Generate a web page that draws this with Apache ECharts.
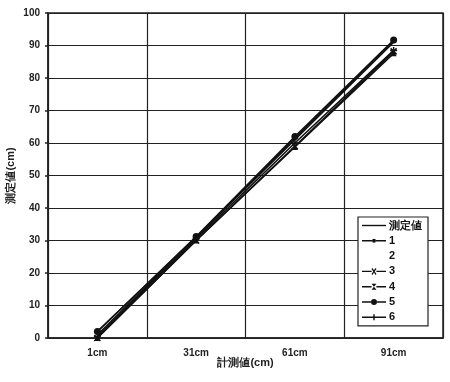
<!DOCTYPE html>
<html><head><meta charset="utf-8">
<script src="https://cdn.jsdelivr.net/npm/echarts@6/dist/echarts.min.js"></script>
<style>html,body{margin:0;padding:0;background:#fff}#c{width:450px;height:382px}</style>
</head><body><div id="c"></div>
<script>
const categories = ['1cm', '31cm', '61cm', '91cm'];
const yTicks = [0, 10, 20, 30, 40, 50, 60, 70, 80, 90, 100];
const seriesNames = ['測定値', '1', '2', '3', '4', '5', '6'];
const valMeasured = [1, 31, 61, 91];
const val1 = [2, 31, 61.5, 91.4];
const val2 = [1, 30.5, 60, 89];
const val3 = [0, 30, 59, 88.2];
const val4 = [0, 30, 58.8, 87.6];
const val5 = [2, 31.2, 62, 91.7];
const val6 = [0.5, 30.5, 60, 88.5];

const font = 'Liberation Sans, Arial, sans-serif';
const black = '#111';
const datasets = [valMeasured, val1, val2, val3, val4, val5, val6];
const symbols = ['none', 'circle', 'none', 'path://M0,0L10,10M10,0L0,10', 'triangle', 'circle', 'path://M5,0L5,10M0,5L10,5'];
const sizes = [0, 4, 0, 6, 6, 7, 7];

const seg = (a, b) => 'M0,4.3h' + a + 'v1.4h-' + a + 'z M' + b + ',4.3h' + (24 - b) + 'v1.4h-' + (24 - b) + 'z ';
const legendIcons = [
  'path://M0,0h24v1.4h-24z',
  'path://' + seg(10, 14) + 'M10,5A2,2 0 1 1 14,5A2,2 0 1 1 10,5z',
  'path://M0,0h24v1.4h-24z',
  'path://' + seg(9.6, 14.4) + 'M9.5,2.5L10.5,1.5L12,3.8L13.5,1.5L14.5,2.5L12.7,5L14.5,7.5L13.5,8.5L12,6.2L10.5,8.5L9.5,7.5L11.3,5z',
  'path://' + seg(9.6, 14.4) + 'M9.5,2L14.5,2L12,5L14.5,8L9.5,8L12,5z',
  'path://' + seg(9, 15) + 'M9,5A3,3 0 1 1 15,5A3,3 0 1 1 9,5z',
  'path://' + seg(11.3, 12.7) + 'M11.3,2h1.4v6h-1.4z'
];

const series = seriesNames.map((n, i) => ({
  name: n,
  type: 'line',
  data: datasets[i],
  symbol: symbols[i],
  symbolSize: sizes[i],
  showSymbol: true,
  itemStyle: { color: black, borderColor: black, borderWidth: (i === 3 || i === 6) ? 1.5 : 0 },
  lineStyle: { color: black, width: i === 2 ? 0 : 1.6, opacity: i === 2 ? 0 : 1 },
  z: 5
}));

const legendData = seriesNames.map((n, i) => ({
  name: n,
  icon: legendIcons[i],
  itemStyle: { color: black, borderWidth: 0, opacity: i === 2 ? 0 : 1 }
}));

const chart = echarts.init(document.getElementById('c'), null, { renderer: 'canvas' });
chart.setOption({
  animation: false,
  backgroundColor: '#fff',
  grid: { left: 48, right: 7, top: 13, bottom: 44, containLabel: false, outerBoundsMode: 'none', show: true, borderColor: '#222', borderWidth: 1.5 },
  xAxis: {
    type: 'category',
    data: categories,
    boundaryGap: true,
    name: '計測値(cm)',
    nameLocation: 'middle',
    nameGap: 19,
    nameMoveOverlap: false,
    nameTextStyle: { fontFamily: font, fontSize: 11, fontWeight: 'bold', color: '#222' },
    axisLine: { lineStyle: { color: '#222', width: 1.5 } },
    axisTick: { show: false },
    axisLabel: { fontFamily: font, fontSize: 10, fontWeight: 'bold', color: '#222', margin: 10 },
    splitLine: { show: true, lineStyle: { color: '#222', width: 1.2 } }
  },
  yAxis: {
    type: 'value',
    min: yTicks[0],
    max: yTicks[yTicks.length - 1],
    interval: 10,
    name: '測定値(cm)',
    nameLocation: 'middle',
    nameRotate: 90,
    nameGap: 32,
    nameMoveOverlap: false,
    nameTextStyle: { fontFamily: font, fontSize: 11, fontWeight: 'bold', color: '#222' },
    axisLine: { show: true, lineStyle: { color: '#222', width: 1.5 } },
    axisTick: { show: true, inside: false, length: 3, lineStyle: { color: '#222', width: 1.5 } },
    axisLabel: { fontFamily: font, fontSize: 10, fontWeight: 'bold', color: '#222', margin: 8 },
    splitLine: { show: true, lineStyle: { color: '#222', width: 1.2 } }
  },
  legend: {
    orient: 'vertical',
    left: 358,
    top: 217,
    width: 60,
    padding: [3, 6, 3, 4],
    itemGap: 4.3,
    itemWidth: 24,
    itemHeight: 11,
    symbolKeepAspect: true,
    backgroundColor: '#fff',
    borderColor: '#222',
    borderWidth: 1.2,
    textStyle: { fontFamily: font, fontSize: 11, fontWeight: 'bold', color: '#111', padding: [0, 0, 0, -2] },
    data: legendData
  },
  series: series
});
</script></body></html>
